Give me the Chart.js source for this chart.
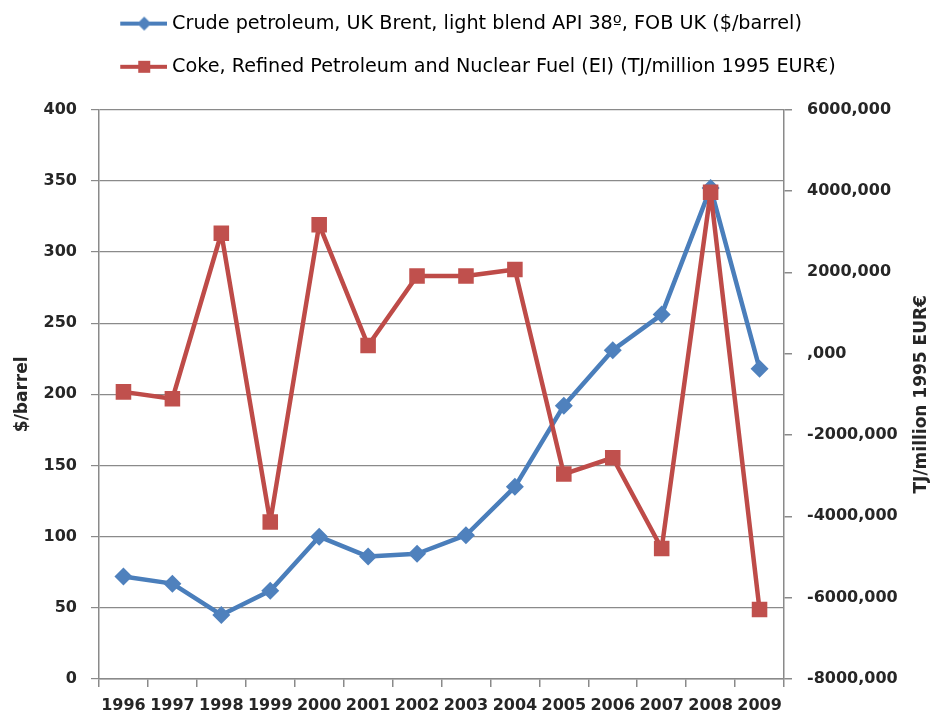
<!DOCTYPE html>
<html>
<head>
<meta charset="utf-8">
<script src="https://cdn.jsdelivr.net/npm/chart.js@4.4.0/dist/chart.umd.min.js"></script>
<style>
  html, body { margin: 0; padding: 0; background: #fff; }
  #wrap { width: 935px; height: 718px; }
</style>
</head>
<body>
<div id="wrap"><canvas id="myChart"></canvas></div>
<script>
(function() {
    'use strict';

    // data
    const years = ['1996', '1997', '1998', '1999', '2000', '2001', '2002', '2003', '2004', '2005', '2006', '2007', '2008', '2009'];
    const brentPrice = [72, 67, 45, 62, 100, 86, 88, 101, 135, 192, 231, 256, 345, 218];
    const cokeIntensity = [-940000, -1110000, 2960000, -4140000, 3170000, 200000, 1910000, 1910000, 2070000, -2960000, -2560000, -4790000, 3970000, -6290000];
    const rightTickLabels = ['-8000,000', '-6000,000', '-4000,000', '-2000,000', ',000', '2000,000', '4000,000', '6000,000'];

    const brentLabel = 'Crude petroleum, UK Brent, light blend API 38\u00ba, FOB UK ($/barrel)';
    const cokeLabel = 'Coke, Refined Petroleum and Nuclear Fuel (EI) (TJ/million 1995 EUR\u20ac)';
    const rightTitle = 'TJ/million 1995 EUR\u20ac';

    const blue = '#4A7EBB', blueFill = '#4F81BD';
    const red = '#BE4B48', redFill = '#C0504D';
    const gridCol = '#8a8a8a';
    const textCol = '#262626';
    const family = '"DejaVu Sans", sans-serif';

    // legend swatch: line with marker in the middle, like excel.
    // the canvas is wide and mostly empty so the swatch sits under the plot's left edge
    function swatch(col, fill, shape) {
        const c = document.createElement('canvas');
        c.width = 148; c.height = 18;
        const g = c.getContext('2d');
        g.strokeStyle = col; g.lineWidth = 4;
        g.beginPath(); g.moveTo(101, 9); g.lineTo(148, 9); g.stroke();
        g.fillStyle = fill;
        const m = 125;
        if (shape === 'diamond') {
            g.beginPath(); g.moveTo(m, 2); g.lineTo(m + 7, 9); g.lineTo(m, 16); g.lineTo(m - 7, 9); g.closePath(); g.fill();
        } else {
            g.fillRect(m - 6, 3, 12, 12);
        }
        return c;
    }
    const swatches = [swatch(blue, blueFill, 'diamond'), swatch(red, redFill, 'square')];

    const rightTitlePlugin = {
        id: 'rightTitle',
        afterDraw(chart) {
            const a = chart.chartArea, ctx = chart.ctx;
            ctx.save();
            ctx.translate(922, (a.top + a.bottom) / 2);
            ctx.rotate(-Math.PI / 2);
            ctx.font = 'bold 17px ' + family;
            ctx.fillStyle = textCol;
            ctx.textAlign = 'center';
            ctx.textBaseline = 'middle';
            ctx.fillText(rightTitle, 0, 0);
            ctx.restore();
        }
    };

    const ctx = document.getElementById('myChart');

    new Chart(ctx, {
        type: 'line',
        data: {
            labels: years,
            datasets: [{
                label: brentLabel,
                data: brentPrice,
                yAxisID: 'y',
                borderColor: blue,
                backgroundColor: blueFill,
                borderWidth: 4.5,
                borderJoinStyle: 'round',
                pointStyle: 'rectRot',
                pointRadius: 9,
                pointHoverRadius: 9,
                pointBorderWidth: 0,
                tension: 0,
                order: 1
            }, {
                label: cokeLabel,
                data: cokeIntensity,
                yAxisID: 'y1',
                borderColor: red,
                backgroundColor: redFill,
                borderWidth: 4.5,
                borderJoinStyle: 'round',
                pointStyle: 'rect',
                pointRadius: 11,
                pointHoverRadius: 11,
                pointBorderWidth: 0,
                tension: 0,
                order: 0
            }]
        },
        options: {
            responsive: true,
            maintainAspectRatio: false,
            animation: false,
            layout: { padding: { top: -10, left: 0, right: 0, bottom: 0 } },
            plugins: {
                tooltip: { enabled: false },
                // empty title used only as a spacer between legend and plot
                title: {
                    display: true,
                    text: ' ',
                    weight: 500,
                    font: { size: 1 },
                    padding: { top: 11, bottom: 11 }
                },
                legend: {
                    position: 'top',
                    fullSize: true,
                    align: 'start',
                    labels: {
                        usePointStyle: true,
                        pointStyleWidth: 138.5,
                        padding: 24,
                        color: textCol,
                        font: { family: family, size: 19.2 },
                        generateLabels: (chart) => chart.data.datasets.map((ds, i) => ({
                            text: ds.label,
                            datasetIndex: i,
                            pointStyle: swatches[i],
                            fillStyle: ds.backgroundColor,
                            strokeStyle: ds.borderColor,
                            lineWidth: 0,
                            hidden: false
                        }))
                    }
                }
            },
            scales: {
                x: {
                    type: 'category',
                    offset: true,
                    grid: { offset: true, drawOnChartArea: false, tickLength: 8, color: gridCol, lineWidth: 1.5 },
                    border: { color: gridCol, width: 1.5 },
                    ticks: { color: textCol, font: { family: family, size: 16, weight: 'bold' }, padding: 9, maxRotation: 0, autoSkip: false },
                    afterFit: (s) => { s.height = 39; }
                },
                y: {
                    position: 'left',
                    min: 0, max: 400,
                    grid: { color: gridCol, lineWidth: 1.2, tickLength: 8 },
                    border: { color: gridCol, width: 1.5 },
                    ticks: { stepSize: 50, color: textCol, font: { family: family, size: 16, weight: 'bold' }, padding: 14 },
                    title: { display: true, text: '$/barrel', color: textCol, font: { family: family, size: 17, weight: 'bold' }, padding: { top: 12, bottom: 0 } },
                    afterFit: (s) => { s.width = 99; }
                },
                y1: {
                    position: 'right',
                    min: -8000000, max: 6000000,
                    grid: { drawOnChartArea: false, tickLength: 8, color: gridCol, lineWidth: 1.5 },
                    border: { color: gridCol, width: 1.5 },
                    ticks: {
                        stepSize: 2000000, color: textCol, padding: 15,
                        font: { family: family, size: 16, weight: 'bold' },
                        callback: (v, i) => rightTickLabels[i]
                    },
                    afterFit: (s) => { s.width = 151; }
                }
            }
        },
        plugins: [rightTitlePlugin]
    });

})();
</script>
</body>
</html>
